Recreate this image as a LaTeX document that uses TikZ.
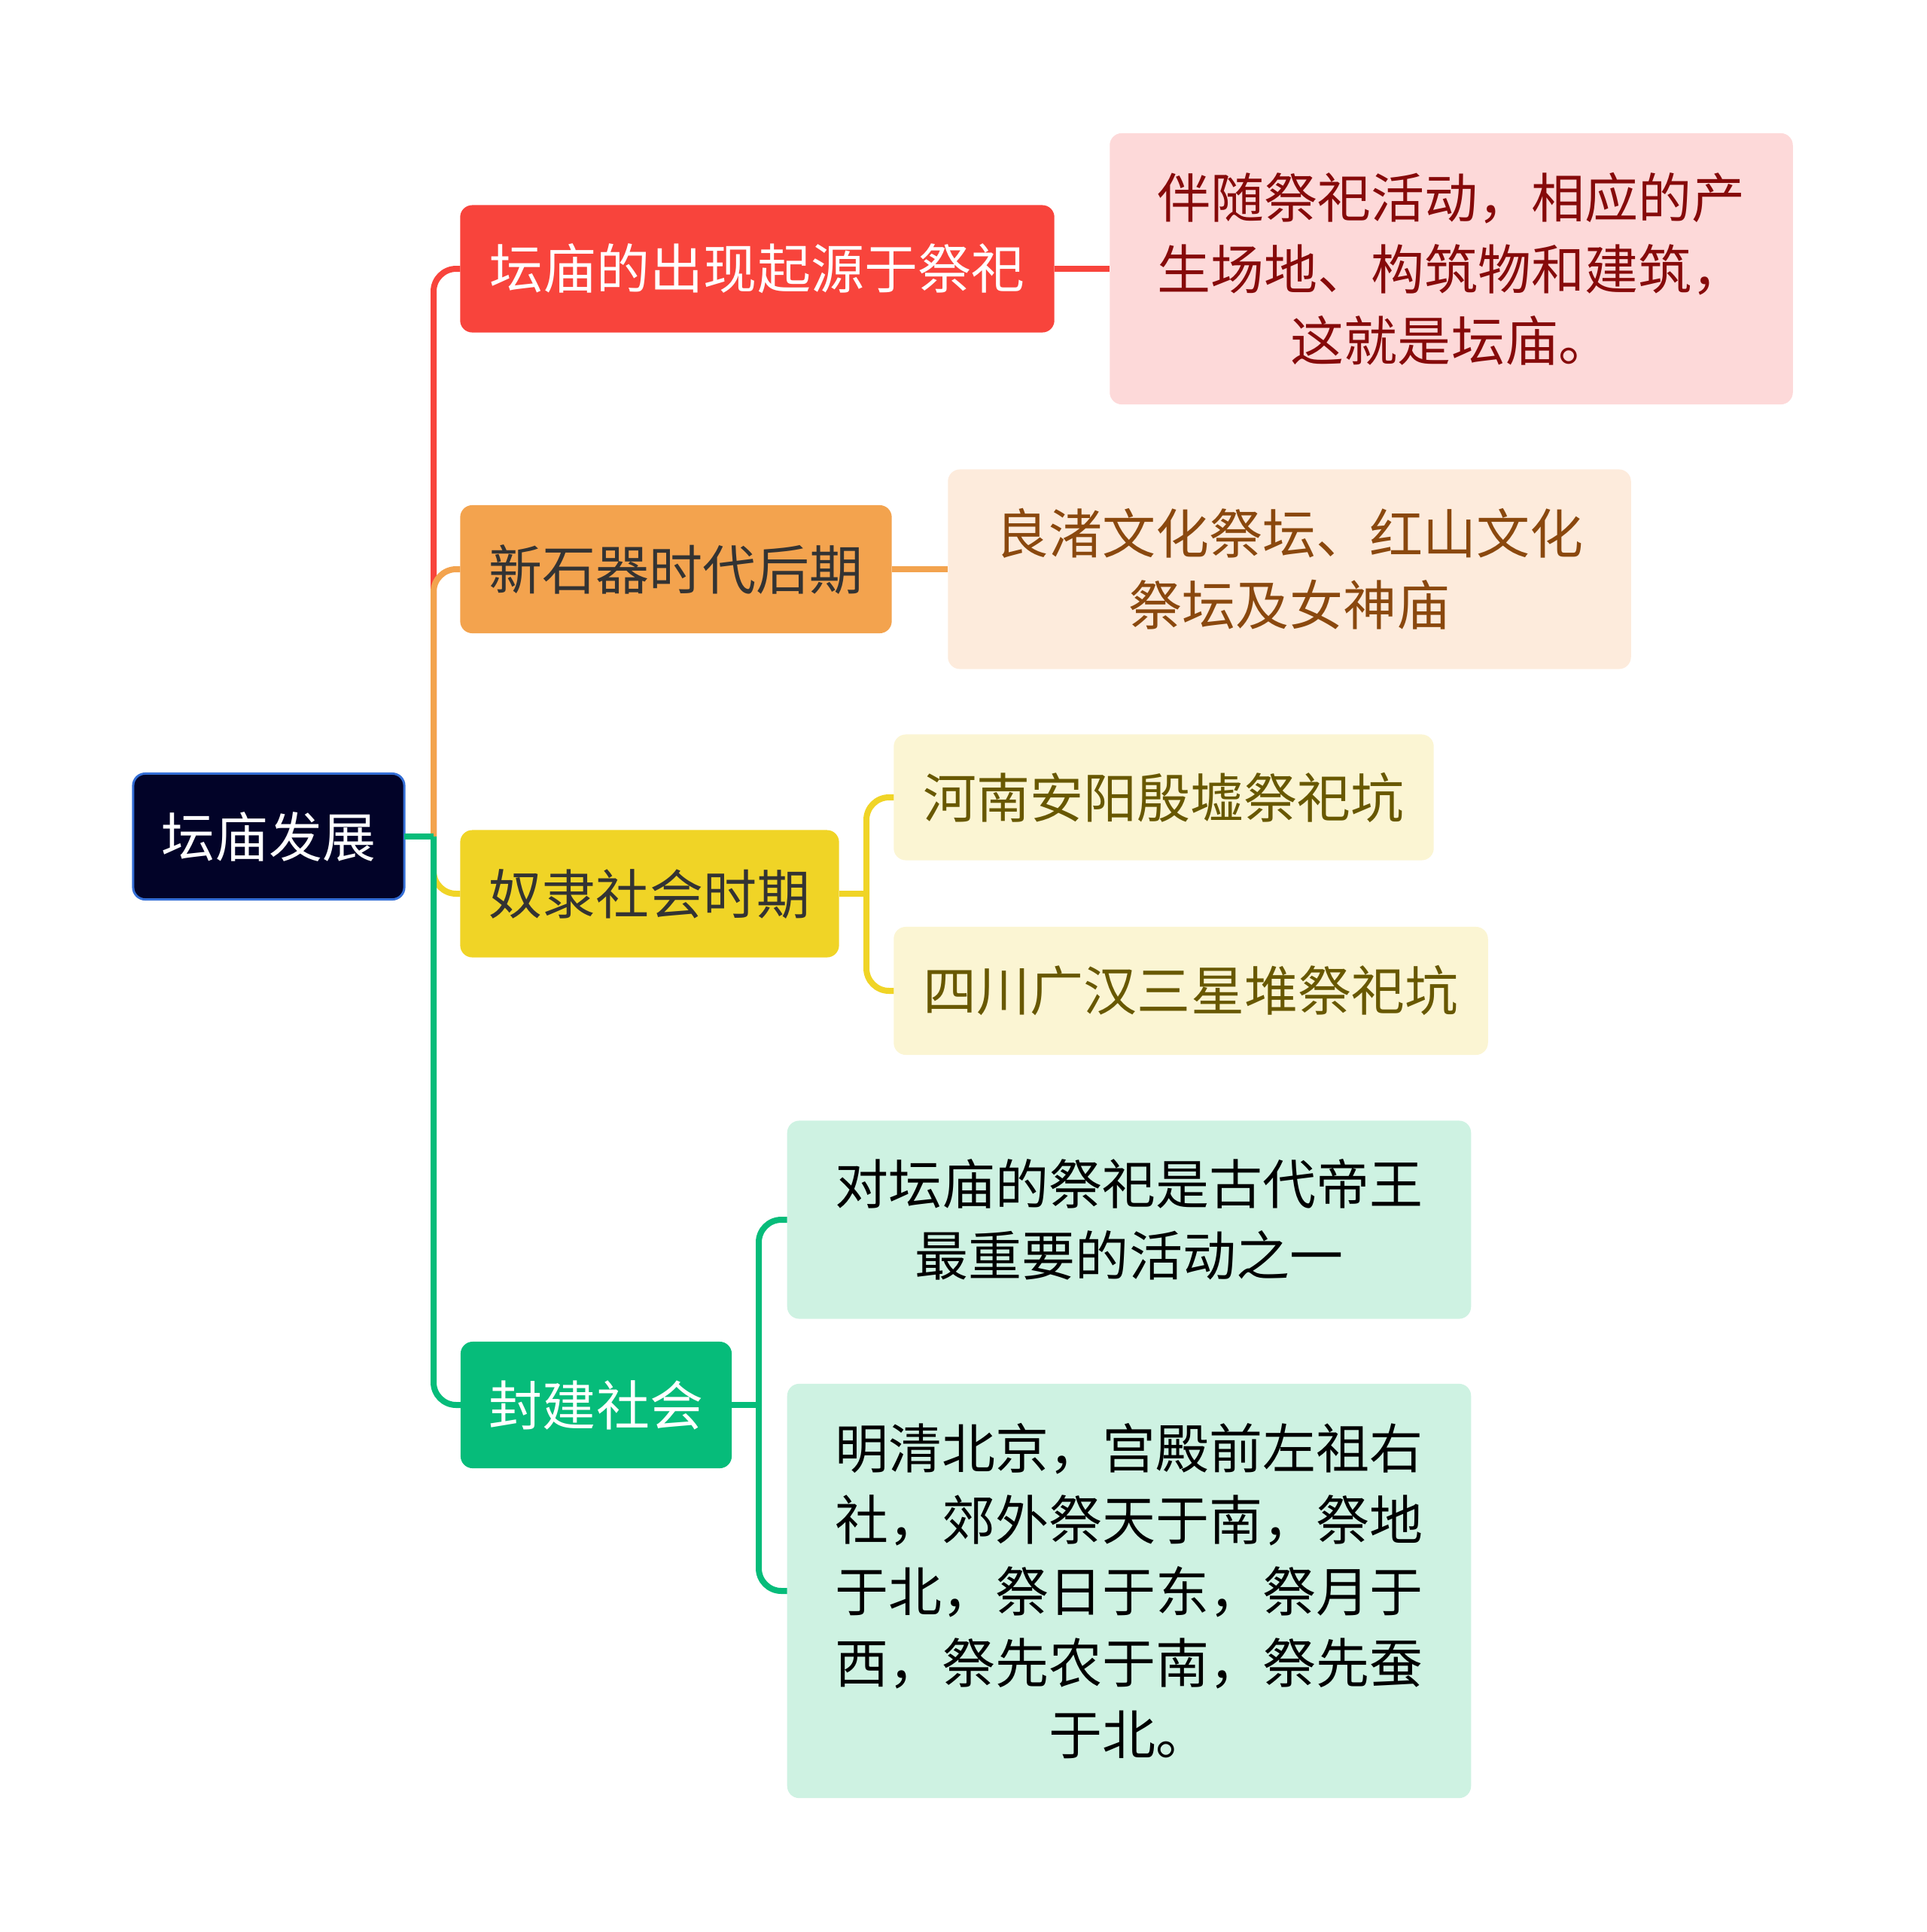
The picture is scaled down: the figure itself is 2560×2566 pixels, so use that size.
\documentclass[tikz,border=0pt]{standalone}
\usepackage{fontspec}
\setmainfont{Noto Sans CJK SC}
\usepackage{tikz}
\usetikzlibrary{positioning}

\begin{document}
\begin{tikzpicture}[x=0.01cm,y=-0.01cm,line width=0.08cm,
	font=\fontsize{20.2pt}{27pt}\selectfont,
	box/.style={rounded corners=0.16cm,inner sep=0pt,outer sep=0pt,align=center},
	main node/.style={box,fill=navy,draw=rootblue,line width=0.03cm,text=white},
	elbow/.style={rounded corners=0.3cm}]

	\definecolor{navy}{RGB}{2,3,40}
	\definecolor{rootblue}{RGB}{52,110,214}
	\definecolor{cred}{RGB}{248,68,60}
	\definecolor{corange}{RGB}{243,163,78}
	\definecolor{cyellow}{RGB}{240,212,38}
	\definecolor{cgreen}{RGB}{6,188,122}
	\definecolor{fred}{RGB}{253,217,217}
	\definecolor{forange}{RGB}{253,235,220}
	\definecolor{fyellow}{RGB}{251,245,211}
	\definecolor{fgreen}{RGB}{206,242,226}
	\definecolor{tred}{RGB}{134,10,10}
	\definecolor{torange}{RGB}{138,72,14}
	\definecolor{tyellow}{RGB}{104,88,0}
	\definecolor{tdark}{RGB}{51,51,51}

	\useasboundingbox (0,0) rectangle (2560,2566);

	% root and branches
	\node[main node, minimum width=3.6cm, minimum height=1.67cm] (a) at (357,1111) {坛庙发展};
	\node[box, fill=cred, text=white, minimum width=7.89cm, minimum height=1.69cm] (b) at (1006,357) {坛庙的出现起源于祭祀};
	\node[box, fill=corange, text=tdark, minimum width=5.73cm, minimum height=1.70cm] (c) at (898,756) {新石器时代后期};
	\node[box, fill=cyellow, text=tdark, minimum width=5.03cm, minimum height=1.69cm] (d) at (863,1187) {奴隶社会时期};
	\node[box, fill=cgreen, text=white, minimum width=3.60cm, minimum height=1.68cm] (e) at (792,1866) {封建社会};

	% leaves
	\node[box, fill=fred, text=tred, minimum width=9.07cm, minimum height=3.60cm] (f) at (1928,357) {伴随祭祀活动，相应的产\\生场地、构筑物和建筑，\\这就是坛庙。};
	\node[box, fill=forange, text=torange, minimum width=9.07cm, minimum height=2.65cm] (g) at (1713,756) {良渚文化祭坛、红山文化\\祭坛及女神庙};
	\node[box, fill=fyellow, text=tyellow, minimum width=7.17cm, minimum height=1.67cm] (h) at (1546,1059) {河南安阳殷墟祭祀坑};
	\node[box, fill=fyellow, text=tyellow, minimum width=7.89cm, minimum height=1.70cm] (i) at (1582,1316) {四川广汉三星堆祭祀坑};
	\node[box, fill=fgreen, text=black, minimum width=9.08cm, minimum height=2.63cm] (j) at (1500,1620) {对坛庙的祭祀是古代帝王\\最重要的活动之一};
	\node[box, fill=fgreen, text=black, minimum width=9.08cm, minimum height=5.50cm] (k) at (1500,2113) {明清北京，宫殿前左祖右\\社，郊外祭天于南，祭地\\于北，祭日于东，祭月于\\西，祭先农于南，祭先蚕\\于北。};

	\coordinate (t) at (576,1111);
	\coordinate (td) at (1151,1187);
	\coordinate (te) at (1008,1866);

	% connectors
	\draw[cred] (a.east) -- (t);
	\draw[cred, elbow] (t) |- (b.west);
	\draw[corange] (a.east) -- (t);
	\draw[corange, elbow] (t) |- (c.west);
	\draw[cyellow] (a.east) -- (t);
	\draw[cyellow, elbow] (t) |- (d.west);
	\draw[cgreen] (a.east) -- (t);
	\draw[cgreen, elbow] (t) |- (e.west);

	\draw[cred] (b.east) -- (f.west);
	\draw[corange] (c.east) -- (g.west);
	\draw[cyellow] (d.east) -- (td);
	\draw[cyellow, elbow] (td) |- (h.west);
	\draw[cyellow, elbow] (td) |- (i.west);
	\draw[cgreen] (e.east) -- (te);
	\draw[cgreen, elbow] (te) |- (j.west);
	\draw[cgreen, elbow] (te) |- (k.west);
\end{tikzpicture}
\end{document}
